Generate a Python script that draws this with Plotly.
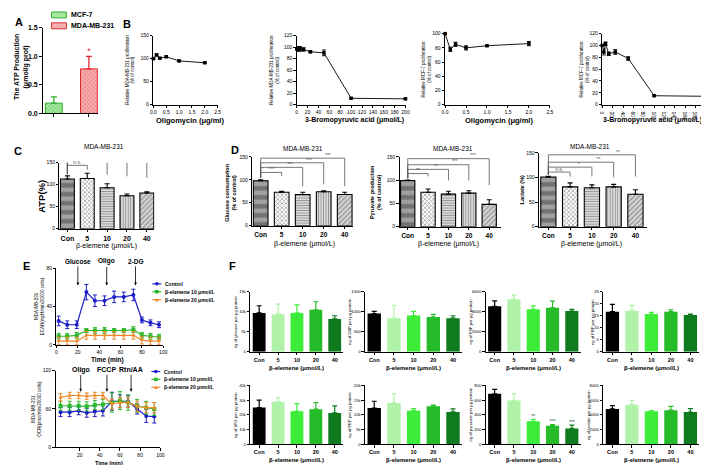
import plotly.graph_objects as go

W, H = 709, 465
FONT = "Liberation Sans, Arial, Helvetica, sans-serif"

# ================= DATA =================
# Panel A
a_lines = ["MCF-7", "MDA-MB-231"]
a_atp = [0.18, 0.78]
a_atp_err = [0.11, 0.22]
a_sig = ["", "*"]

# Panel B
oligo_dose = [0, 0.125, 0.25, 0.5, 1.0, 2.0]
bpa_dose = [0, 3.125, 6.25, 12.5, 25, 50, 100, 200]
b_mda_oligo = [100, 108, 101, 104, 95, 91]
b_mda_oligo_err = [1.5, 2, 1.5, 1.5, 1.5, 1.5]
b_mda_bpa = [97, 97, 97, 96, 92, 90, 11, 10]
b_mda_bpa_err = [4, 4, 4, 3, 2, 5, 1, 1]
b_mcf_oligo = [100, 78, 85, 80, 83, 86]
b_mcf_oligo_err = [1, 3, 3, 3, 1, 3]
b_mcf_bpa = [100, 89, 103, 86, 89, 78, 15, 14]
b_mcf_bpa_err = [1, 5, 3, 3, 4, 3, 1, 1]
oligo_ticks = ["0.0", "0.5", "1.0", "1.5", "2.0", "2.5"]

# Panels C / D / F
conc = ["Con", "5", "10", "20", "40"]
c_atp = [113, 114, 93, 75, 81]
c_atp_err = [7, 12, 9, 4, 3]
c_sig = ["n.s.", "n.s.", "**", "**"]
d_glucose = [98, 73, 68, 74, 68]
d_glucose_err = [2, 2, 5, 2, 5]
d_glucose_sig = ["***", "***", "***", "***"]
d_pyruvate = [99, 74, 70, 72, 48]
d_pyruvate_err = [1, 7, 6, 5, 10]
d_pyruvate_sig = ["**", "**", "***", "***"]
d_lactate = [101, 81, 79, 81, 66]
d_lactate_err = [1.5, 8, 6, 5, 9]
d_lactate_sig = ["n.s.", "*", "**", "**"]

# Panel E
ecar_time = [2, 10, 19, 28, 36, 45, 54, 63, 72, 80, 88, 96]
ecar_ctrl = [25, 21, 21, 55, 46, 46, 50, 50, 52, 26, 23, 21]
ecar_ctrl_err = [5, 4, 4, 8, 6, 5, 6, 5, 6, 3, 3, 3]
ecar_b10 = [9, 9, 10, 15, 15, 15, 15, 15, 16, 10, 9, 8]
ecar_b10_err = [3, 3, 3, 2, 3, 3, 2, 2, 3, 3, 3, 3]
ecar_b20 = [4, 4, 4, 10, 10, 10, 10, 10, 10, 5, 4, 4]
ecar_b20_err = [4, 4, 4, 4, 4, 4, 4, 4, 4, 4, 4, 4]
ocr_time = [1, 10, 19, 27, 35, 43, 52, 60, 68, 77, 86, 94]
ocr_ctrl = [55, 55, 57, 54, 56, 57, 72, 72, 72, 60, 49, 48]
ocr_ctrl_err = [7, 7, 6, 7, 8, 8, 14, 10, 9, 8, 10, 10]
ocr_b10 = [65, 65, 65, 64, 66, 67, 70, 73, 70, 65, 62, 60]
ocr_b10_err = [7, 7, 7, 7, 7, 8, 15, 14, 12, 10, 10, 10]
ocr_b20 = [78, 81, 81, 80, 81, 81, 68, 70, 70, 64, 62, 62]
ocr_b20_err = [6, 5, 5, 5, 5, 5, 8, 8, 8, 8, 8, 8]
e_series = ["Control", "β-elemene 10 μmol/L", "β-elemene 20 μmol/L"]
ecar_events = ["Glucose", "Oligo", "2-DG"]
ecar_event_time = [20, 47, 74]
ocr_events = ["Oligo", "FCCP", "Rtn/AA"]
ocr_event_time = [21, 47, 71]

# Panel F
f_glucose = [9700, 9400, 9700, 10500, 8200]
f_glucose_err = [1800, 2500, 2000, 2000, 800]
f_g6p = [955, 835, 905, 868, 840]
f_g6p_err = [55, 325, 105, 65, 60]
f_f6p = [4550, 5250, 4250, 4400, 4070]
f_f6p_err = [530, 400, 330, 670, 170]
f_fbp = [16.7, 17.1, 15.7, 16.7, 15.3]
f_fbp_err = [3.0, 2.2, 0.7, 0.8, 0.4]
f_3pg = [24900, 28800, 22500, 23800, 21300]
f_3pg_err = [5000, 2700, 5100, 4500, 4700]
f_pep = [12300, 14000, 11400, 12900, 11000]
f_pep_err = [2300, 3100, 700, 400, 1000]
f_pyruvate = [684, 593, 312, 251, 216]
f_pyruvate_err = [60, 95, 26, 17, 44]
f_pyruvate_sig = ["", "", "**", "***", "***"]
f_lactate = [4800, 5370, 4500, 4630, 4370]
f_lactate_err = [440, 570, 90, 520, 480]

# ================= HELPERS =================
fig = go.Figure()
layout = dict(width=W, height=H, margin=dict(l=0, r=0, t=0, b=0),
              paper_bgcolor="white", plot_bgcolor="white", showlegend=False,
              font=dict(family=FONT, color="black"))
ann = []
shapes = []


def dx(a, b):
    return [a / W, b / W]


def dy(top, bot):
    return [1 - bot / H, 1 - top / H]


def axis_common(**kw):
    d = dict(showline=True, linecolor="black", linewidth=1, ticks="outside", ticklen=2.5,
             tickwidth=1, tickcolor="black", showgrid=False, zeroline=False,
             tickfont=dict(family=FONT, size=5, color="black"), fixedrange=True)
    d.update(kw)
    return d


def add_axes(n, xdom, ydom, xkw, ykw):
    ref = "" if n == 1 else str(n)
    layout["xaxis" + ref] = axis_common(domain=xdom, anchor="y" + ref, **xkw)
    layout["yaxis" + ref] = axis_common(domain=ydom, anchor="x" + ref, **ykw)
    return "x" + ref, "y" + ref


def text(px, py, s, size=6, bold=False, angle=0, color="black", xanchor="center"):
    ann.append(dict(x=px / W, y=1 - py / H, xref="paper", yref="paper",
                    text=("<b>%s</b>" % s) if bold else s, showarrow=False,
                    font=dict(family=FONT, size=size, color=color), textangle=angle,
                    xanchor=xanchor, yanchor="middle"))


# ================= PANEL A =================
xa, ya = add_axes(1, dx(31, 87), dy(16, 103),
                  dict(range=[-0.32, 1.26], tickvals=[0, 1], showticklabels=False, ticklen=3),
                  dict(range=[0, 1.5], tickvals=[0, 0.5, 1, 1.5], ticktext=["0.0", "0.5", "1.0", "1.5"],
                       tickfont=dict(family=FONT, size=7, color="black", weight="bold")))
a_fg = ["#2fae2f", "#e02a2e"]
a_bg = ["#a6e8a0", "#f6b0b0"]
for i, (v, e) in enumerate(zip(a_atp, a_atp_err)):
    fig.add_trace(go.Bar(x=[i], y=[v], width=0.48, xaxis=xa, yaxis=ya,
                         marker=dict(color=a_bg[i], line=dict(color=a_fg[i], width=1),
                                     pattern=dict(shape="x", fgcolor=a_fg[i], bgcolor=a_bg[i], size=3, solidity=0.35)),
                         error_y=dict(type="data", array=[e], arrayminus=[0], symmetric=False,
                                      color=a_fg[i], thickness=1.3, width=3)))
    if a_sig[i]:
        fig.add_trace(go.Scatter(x=[i], y=[v + e], mode="text", text=[a_sig[i]], textposition="top center",
                                 textfont=dict(family=FONT, size=9, color=a_fg[i]), cliponaxis=False,
                                 xaxis=xa, yaxis=ya))
for k, (lab, top) in enumerate(zip(a_lines, [0, 11])):
    shapes.append(dict(type="rect", xref="paper", yref="paper", x0=40 / W, x1=55 / W,
                       y0=1 - (top + 6) / H, y1=1 - top / H, fillcolor=a_bg[k],
                       line=dict(color=a_fg[k], width=1)))
    text(58, top + 3, lab, size=7, bold=True, xanchor="left")
text(9, 56, "The ATP Production<br>(μmol/g prot)", size=7, bold=True, angle=-90)
text(7, 10, "A", size=11, bold=True)

# ================= PANEL B =================
def b_panel(n, xdom, ydom, xs, ys, errs, xr, xt, xtt, yr, yt):
    xa, ya = add_axes(n, xdom, ydom, dict(range=xr, tickvals=xt, ticktext=xtt),
                      dict(range=yr, tickvals=yt))
    fig.add_trace(go.Scatter(x=xs, y=ys, mode="lines+markers", xaxis=xa, yaxis=ya, cliponaxis=False,
                             error_y=dict(type="data", array=errs, color="black", thickness=0.9, width=2),
                             marker=dict(symbol="square", size=3.5, color="black"),
                             line=dict(color="black", width=0.9)))


oligo_tv = [0, 0.5, 1, 1.5, 2, 2.5]
bpa_tv = [0, 20, 40, 60, 80, 100, 120, 140, 160, 180, 200]
b_panel(2, dx(143, 208), dy(24, 94), oligo_dose, b_mda_oligo, b_mda_oligo_err, [0, 2.5], oligo_tv, oligo_ticks,
        [0, 150], [0, 50, 100, 150])
b_panel(3, dx(288, 398), dy(24, 94), bpa_dose, b_mda_bpa, b_mda_bpa_err, [0, 200], bpa_tv, None,
        [0, 120], [0, 20, 40, 60, 80, 100, 120])
b_panel(4, dx(438, 544), dy(22, 94), oligo_dose, b_mcf_oligo, b_mcf_oligo_err, [0, 2.5], oligo_tv, oligo_ticks,
        [0, 100], [0, 20, 40, 60, 80, 100])
b_panel(5, dx(597, 702), dy(22, 94), bpa_dose, b_mcf_bpa, b_mcf_bpa_err, [0, 200], bpa_tv, None,
        [0, 120], [0, 20, 40, 60, 80, 100, 120])
text(116, 12, "B", size=11, bold=True)
text(119, 59, "Relative MDA-MB-231 proliferation<br>(% of control)", size=4.5, angle=-90)
text(265, 59, "Relative MDA-MB-231 proliferation<br>(% of control)", size=4.5, angle=-90)
text(419, 58, "Relative MCF-7 proliferation<br>(% of control)", size=4.5, angle=-90)
text(579, 58, "Relative MCF-7 proliferation<br>(% of control)", size=4.5, angle=-90)
text(180, 110, "Oligomycin (μg/ml)", size=7.5, bold=True)
text(346, 110, "3-Bromopyruvic acid (μmol/L)", size=7, bold=True)
text(493, 110, "Oligomycin (μg/ml)", size=7.5, bold=True)
text(648, 110, "3-Bromopyruvic acid (μmol/L)", size=7, bold=True)

# ================= PANELS C / D =================
pat_shape = ["-", "x", "-", "|", "/"]
pat_fg = ["#6a6a6a", "#1e1e1e", "#4a4a4a", "#4a4a4a", "#4a4a4a"]
pat_bg = ["#a0a0a0", "#ffffff", "#e6e6e6", "#e6e6e6", "#d8d8d8"]
pat_size = [9, 3, 2.5, 2.5, 3.5]
pat_sol = [0.5, 0.45, 0.45, 0.45, 0.35]


def bar_panel(n, xdom, ydom, vals, errs, xr, tickfont_size):
    xa, ya = add_axes(n, xdom, ydom,
                      dict(range=xr, tickvals=list(range(len(conc))), ticktext=conc,
                           tickfont=dict(family=FONT, size=tickfont_size, color="black", weight="bold")),
                      dict(range=[0, 150], tickvals=[0, 50, 100, 150]))
    fig.add_trace(go.Bar(x=list(range(len(vals))), y=vals, width=0.7, xaxis=xa, yaxis=ya,
                         marker=dict(color=pat_bg, line=dict(color="black", width=1.1),
                                     pattern=dict(shape=pat_shape, fgcolor=pat_fg, bgcolor=pat_bg,
                                                  size=pat_size, solidity=pat_sol)),
                         error_y=dict(type="data", array=errs, arrayminus=[0] * len(errs), symmetric=False,
                                      color="black", thickness=1.1, width=2.5)))
    return xa, ya


def brackets(xa, ya, start, levels, drops, labels, label_x):
    for i, (lv, dr, lab, lx) in enumerate(zip(levels, drops, labels, label_x), start=1):
        fig.add_trace(go.Scatter(x=[0, 0, i, i], y=[start, lv, lv, dr], mode="lines", xaxis=xa, yaxis=ya,
                                 line=dict(color="#555555", width=0.8), cliponaxis=False, hoverinfo="skip"))
        fig.add_trace(go.Scatter(x=[lx], y=[lv], mode="text", text=[lab], textposition="top center",
                                 textfont=dict(family=FONT, size=5, color="#555555"), cliponaxis=False,
                                 xaxis=xa, yaxis=ya))


lab_x = [0.5, 1.4, 2.3, 3.2]
xa, ya = bar_panel(6, dx(48, 144), dy(153, 220), c_atp, c_atp_err, [-0.4, 4.38], 7)
brackets(xa, ya, 124, [144, 153, 163, 173], [134, 123, 119, 116], c_sig, lab_x)
text(6, 141, "C", size=11, bold=True)
text(93, 137, "MDA-MB-231", size=6.5)
text(30, 187, "ATP(%)", size=9.5, bold=True, angle=-90)
text(96, 238, "β-elemene (μmol/L)", size=7)

xa, ya = bar_panel(7, dx(243, 345), dy(147, 217), d_glucose, d_glucose_err, [-0.4, 4.4], 6.5)
brackets(xa, ya, 104, [116, 127, 137, 147], [108, 86, 90, 86], d_glucose_sig, lab_x)
xa, ya = bar_panel(8, dx(392, 495), dy(147, 218), d_pyruvate, d_pyruvate_err, [-0.4, 4.6], 6.5)
brackets(xa, ya, 104, [114, 123, 133, 146], [108, 99, 99, 89], d_pyruvate_sig, lab_x)
xa, ya = bar_panel(9, dx(533, 642), dy(143, 218), d_lactate, d_lactate_err, [-0.43, 4.52], 6.5)
brackets(xa, ya, 106, [111, 121, 131, 146], [102, 102, 100, 102], d_lactate_sig, lab_x)
text(226, 140, "D", size=11, bold=True)
text(294, 139, "MDA-MB-231", size=6.5)
text(446, 139, "MDA-MB-231", size=6.5)
text(585, 137, "MDA-MB-231", size=6.5)
text(221, 184, "Glucose consumption<br>(% of control)", size=5.5, bold=True, angle=-90)
text(367, 183, "Pyruvate production<br>(% of control)", size=5.5, bold=True, angle=-90)
text(516, 180, "Lactate (%)", size=5.5, bold=True, angle=-90)
text(296, 236, "β-elemene (μmol/L)", size=7)
text(441, 236, "β-elemene (μmol/L)", size=7)
text(586, 236, "β-elemene (μmol/L)", size=7)

# ================= PANEL E =================
e_colors = ["#1c1cc8", "#2cb82c", "#f08a2a"]
e_symbols = ["circle", "square", "triangle-up"]

xa, ya = add_axes(10, dx(45, 153), dy(260, 338),
                  dict(range=[0, 100], tickvals=[0, 20, 40, 60, 80, 100]),
                  dict(range=[0, 80], tickvals=[0, 40, 80]))
for vals, errs, c, s in zip([ecar_ctrl, ecar_b10, ecar_b20], [ecar_ctrl_err, ecar_b10_err, ecar_b20_err],
                            e_colors, e_symbols):
    fig.add_trace(go.Scatter(x=ecar_time, y=vals, mode="lines+markers", xaxis=xa, yaxis=ya, cliponaxis=False,
                             error_y=dict(type="data", array=errs, color=c, thickness=1, width=2),
                             marker=dict(symbol=s, size=4, color=c), line=dict(color=c, width=1.2)))
for lab, t in zip(ecar_events, ecar_event_time):
    ann.append(dict(x=t, y=62, xref=xa, yref=ya, text="<b>%s</b>" % lab, showarrow=True, ax=0, ay=-24,
                    arrowhead=2, arrowsize=0.7, arrowwidth=0.8, arrowcolor="black",
                    font=dict(family=FONT, size=6.5, color="black")))

xb, yb = add_axes(11, dx(44, 150), dy(364, 442),
                  dict(range=[-4, 100], tickvals=[20, 40, 60, 80, 100]),
                  dict(range=[0, 120], tickvals=[0, 60, 120]))
for vals, errs, c, s in zip([ocr_ctrl, ocr_b10, ocr_b20], [ocr_ctrl_err, ocr_b10_err, ocr_b20_err],
                            e_colors, e_symbols):
    fig.add_trace(go.Scatter(x=ocr_time, y=vals, mode="lines+markers", xaxis=xb, yaxis=yb, cliponaxis=False,
                             error_y=dict(type="data", array=errs, color=c, thickness=1, width=2),
                             marker=dict(symbol=s, size=4, color=c), line=dict(color=c, width=1.2)))
for lab, t in zip(ocr_events, ocr_event_time):
    ann.append(dict(x=t, y=87, xref=xb, yref=yb, text="<b>%s</b>" % lab, showarrow=True, ax=0, ay=-22,
                    arrowhead=2, arrowsize=0.7, arrowwidth=0.8, arrowcolor="black",
                    font=dict(family=FONT, size=7, color="black")))


def e_legend(x0, rows):
    for lab, c, s, py in zip(e_series, e_colors, e_symbols, rows):
        shapes.append(dict(type="line", xref="paper", yref="paper", x0=x0 / W, x1=(x0 + 9) / W,
                           y0=1 - py / H, y1=1 - py / H, line=dict(color=c, width=1.2)))
        cx, r = x0 + 4.5, 1.8
        if s == "circle":
            shapes.append(dict(type="circle", xref="paper", yref="paper", x0=(cx - r) / W, x1=(cx + r) / W,
                               y0=1 - (py + r) / H, y1=1 - (py - r) / H, fillcolor=c, line=dict(width=0)))
        elif s == "square":
            shapes.append(dict(type="rect", xref="paper", yref="paper", x0=(cx - r) / W, x1=(cx + r) / W,
                               y0=1 - (py + r) / H, y1=1 - (py - r) / H, fillcolor=c, line=dict(width=0)))
        else:
            path = "M %f %f L %f %f L %f %f Z" % ((cx - r) / W, 1 - (py + r) / H, (cx + r) / W,
                                                  1 - (py + r) / H, cx / W, 1 - (py - r) / H)
            shapes.append(dict(type="path", xref="paper", yref="paper", path=path, fillcolor=c,
                               line=dict(width=0)))
        text(x0 + 11, py, lab, size=5, bold=True, xanchor="left")


e_legend(142, [276, 284, 292])
e_legend(141, [365, 373, 381])
text(15, 258, "E", size=11, bold=True)
text(28, 299, "MDA-MB-231<br>ECAR(mpH/min/20000 cells)", size=4.5, angle=-90)
text(25, 403, "MDA-MB-231<br>OCR(pmol/min/20000 cells)", size=4.5, angle=-90)
text(97, 353, "Time (min)", size=6.5, bold=True)
text(98, 457.5, "Time (min)", size=5.5, bold=True)

# ================= PANEL F =================
f_colors = ["#000000", "#b0f2a8", "#3cec38", "#25bb29", "#0f7a1e"]
f_x = [(241, 335), (357, 455), (479, 575), (598, 695)]
f_rows = [(284, 345), (379, 439)]
f_panels = [
    ("ng of glucose per μg protein", f_glucose, f_glucose_err, 15000, 5000, None),
    ("ng of G6P per μg protein", f_g6p, f_g6p_err, 1500, 500, None),
    ("ng of F6P per μg protein", f_f6p, f_f6p_err, 6000, 2000, None),
    ("ng of FBP per μg protein", f_fbp, f_fbp_err, 25, 5, None),
    ("ng of 3PG per μg protein", f_3pg, f_3pg_err, 40000, 10000, None),
    ("ng of PEP per μg protein", f_pep, f_pep_err, 20000, 5000, None),
    ("ng of pyruvate per μg protein", f_pyruvate, f_pyruvate_err, 800, 200, f_pyruvate_sig),
    ("ng of lactate per μg protein", f_lactate, f_lactate_err, 8000, 2000, None),
]
for k, (ylab, vals, errs, ymax, dt, sig) in enumerate(f_panels):
    col, row = k % 4, k // 4
    x0, x1 = f_x[col]
    top, bot = f_rows[row]
    xa, ya = add_axes(12 + k, dx(x0, x1), dy(top, bot),
                      dict(range=[-0.47, 4.45], tickvals=list(range(len(conc))), ticktext=conc,
                           tickfont=dict(family=FONT, size=5.5, color="black", weight="bold")),
                      dict(range=[0, ymax], dtick=dt, tick0=0, tickfont=dict(family=FONT, size=4.2, color="black")))
    for i, (v, e) in enumerate(zip(vals, errs)):
        fig.add_trace(go.Bar(x=[i], y=[v], width=0.68, xaxis=xa, yaxis=ya,
                             marker=dict(color=f_colors[i], line=dict(width=0)),
                             error_y=dict(type="data", array=[e], arrayminus=[0], symmetric=False,
                                          color=f_colors[i], thickness=1.2, width=2.5)))
        if sig and sig[i]:
            fig.add_trace(go.Scatter(x=[i], y=[v + e], mode="text", text=[sig[i]], textposition="top center",
                                     textfont=dict(family=FONT, size=5, color="#1a5a1a"), cliponaxis=False,
                                     xaxis=xa, yaxis=ya))
    off = 11 if ymax == 25 else 15
    text(x0 - off, (top + bot) / 2, ylab, size=4.2, angle=-90)
    text((x0 + x1) / 2, bot + 16, "β-elemene (μmol/L)", size=6, bold=True)
text(223, 258, "F", size=11, bold=True)

layout["annotations"] = ann
layout["shapes"] = shapes
fig.update_layout(**layout)
fig.write_html("out.html")
